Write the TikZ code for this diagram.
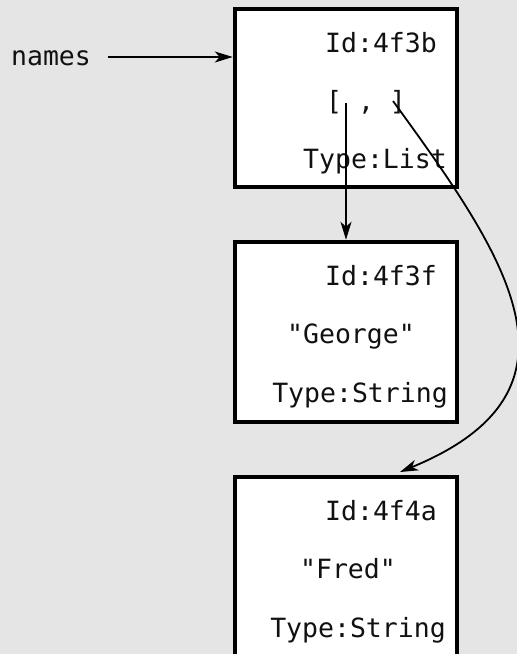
\documentclass[tikz,border=0pt]{standalone}
\usepackage{fontspec}
\setmonofont{DejaVu Sans Mono}
\usetikzlibrary{arrows.meta}
\definecolor{bg}{HTML}{E5E5E5}
\definecolor{ink}{HTML}{111111}
\begin{document}
\begin{tikzpicture}[x=1pt,y=-1pt,
  objbox/.style={draw=black,fill=white,line width=4.5pt,minimum width=222pt,inner sep=0pt},
  lbl/.style={font=\ttfamily\fontsize{26.5}{30}\selectfont,text=ink,anchor=base,inner sep=0pt},
  conn/.style={line width=1.8pt,draw=black,-{Stealth[length=18pt,width=11pt,inset=5pt]}}]
\fill[bg] (0,0) rectangle (517,654);
\useasboundingbox (0,0) rectangle (517,654);
\clip (0,0) rectangle (517,654);
% boxes
\node[objbox,minimum height=178pt] (b1) at (346,98) {};
\node[objbox,minimum height=180pt] (b2) at (346,332) {};
\node[objbox,minimum height=200pt] (b3) at (346,577) {};
% texts box 1
\node[lbl] (id1) at (381,52) {Id:4f3b};
\node[lbl] (lst) at (366,110) {[ , ]};
\node[lbl] (ty1) at (375,168) {Type:List};
% texts box 2
\node[lbl] (id2) at (381,285) {Id:4f3f};
\node[lbl] (v2) at (351,343) {"George"};
\node[lbl] (ty2) at (360,402) {Type:String};
% texts box 3
\node[lbl] (id3) at (381,520) {Id:4f4a};
\node[lbl] (v3) at (348,578) {"Fred"};
\node[lbl] (ty3) at (358,637) {Type:String};
% variable name
\node[lbl,anchor=base] (names) at (51,65) {names};
\coordinate (nstart) at (108,57);
\coordinate (l1) at (346,103);
\coordinate (r1) at (393,101);
\coordinate (t3) at (400,472);
\draw[conn] (nstart) -- (nstart -| b1.west);
\draw[conn] (l1) -- (l1 |- b2.north);
\draw[conn] (r1) .. controls (505,255) and (600,390) .. (t3);
\end{tikzpicture}
\end{document}
